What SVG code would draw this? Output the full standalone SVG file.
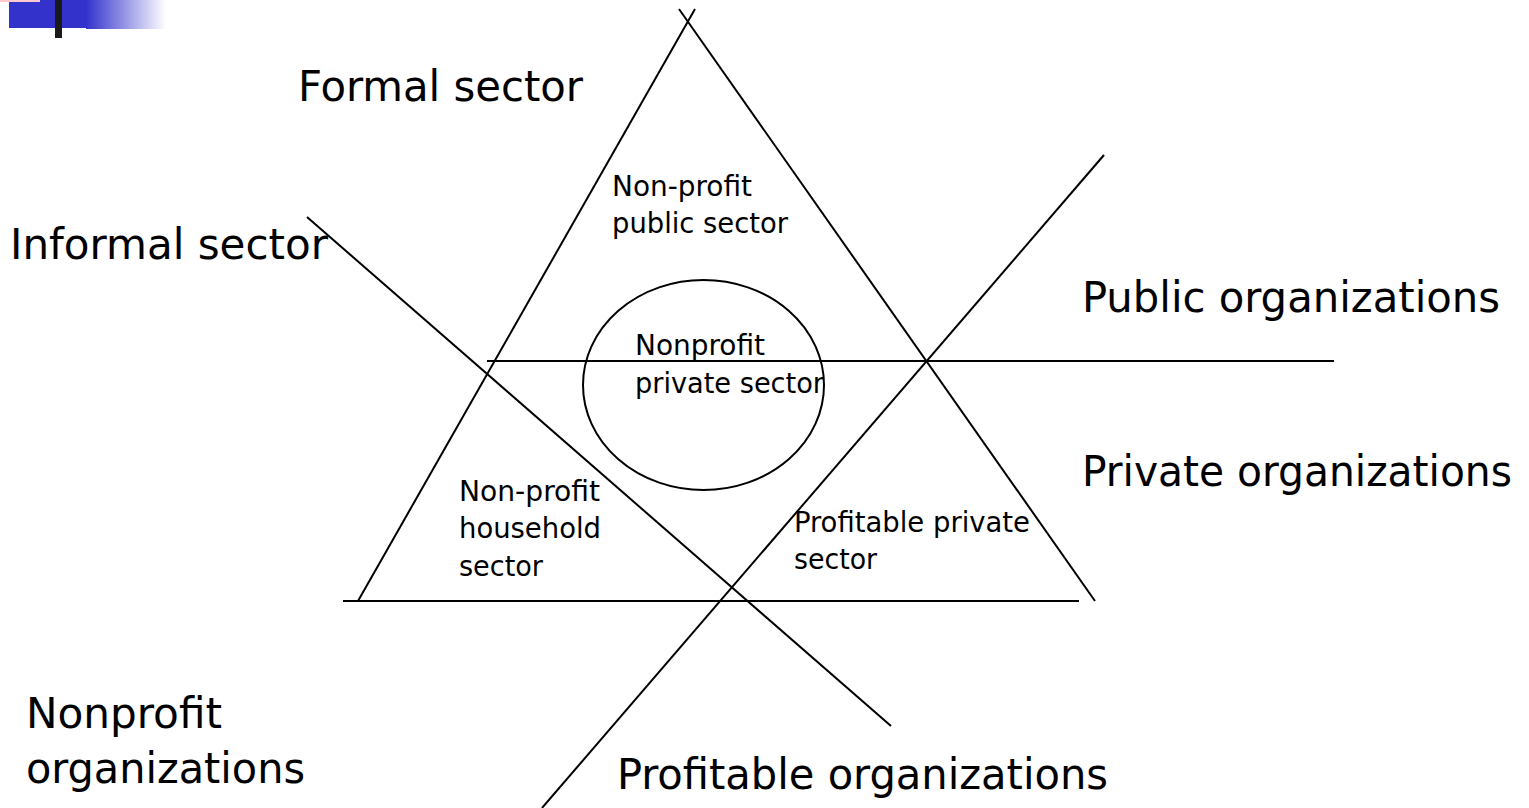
<svg xmlns="http://www.w3.org/2000/svg" width="1529" height="808" viewBox="0 0 1529 808">
<style>
.ln{stroke:#000;stroke-width:2;fill:none}
.big{font-family:"DejaVu Sans Condensed","DejaVu Sans",sans-serif;font-size:43px;fill:#000}
.sm{font-family:"DejaVu Sans Condensed","DejaVu Sans",sans-serif;font-size:28px;fill:#000}
</style>
<defs>
<linearGradient id="fade" x1="0" y1="0" x2="1" y2="0">
<stop offset="0" stop-color="#3333cc"/>
<stop offset="1" stop-color="#ffffff"/>
</linearGradient>
</defs>
<rect width="1529" height="808" fill="#fff"/>
<g id="logo">
<rect x="86" y="0" width="80" height="29" fill="url(#fade)"/>
<rect x="9" y="0" width="77" height="28" fill="#3333cc"/>
<rect x="0" y="0" width="40" height="2" fill="#ffc8d0"/>
<rect x="55" y="0" width="7" height="38" fill="#1a1a1a"/>
</g>
<g id="connectors">
<line class="ln" x1="695" y1="9" x2="358" y2="601"/>
<line class="ln" x1="679" y1="9" x2="1095" y2="601"/>
<line class="ln" x1="343" y1="601" x2="1079" y2="601"/>
<line class="ln" x1="487" y1="361" x2="1334" y2="361"/>
<line class="ln" x1="307" y1="217" x2="891" y2="726"/>
<line class="ln" x1="1104" y1="155" x2="542" y2="808"/>
</g>
<g id="circle">
<ellipse class="ln" cx="703.5" cy="385" rx="120.5" ry="105"/>
</g>
<g id="labels">
<text class="big" x="298" y="101" textLength="285" lengthAdjust="spacingAndGlyphs">Formal sector</text>
<text class="big" x="10" y="259" textLength="318" lengthAdjust="spacingAndGlyphs">Informal sector</text>
<text class="big" x="1082" y="312" textLength="418" lengthAdjust="spacingAndGlyphs">Public organizations</text>
<text class="big" x="1082" y="486" textLength="430" lengthAdjust="spacingAndGlyphs">Private organizations</text>
<text class="big" x="26" y="728" textLength="196" lengthAdjust="spacingAndGlyphs">Nonprofit</text>
<text class="big" x="26" y="783" textLength="279" lengthAdjust="spacingAndGlyphs">organizations</text>
<text class="big" x="617" y="789" textLength="491" lengthAdjust="spacingAndGlyphs">Profitable organizations</text>
</g>
<g id="n-public">
<text class="sm" x="612" y="196" textLength="140" lengthAdjust="spacingAndGlyphs">Non-profit</text>
<text class="sm" x="612" y="233" textLength="176" lengthAdjust="spacingAndGlyphs">public sector</text>
</g>
<g id="n-private">
<text class="sm" x="635" y="355" textLength="130" lengthAdjust="spacingAndGlyphs">Nonprofit</text>
<text class="sm" x="635" y="393" textLength="189" lengthAdjust="spacingAndGlyphs">private sector</text>
</g>
<g id="n-household">
<text class="sm" x="459" y="501" textLength="141" lengthAdjust="spacingAndGlyphs">Non-profit</text>
<text class="sm" x="459" y="538" textLength="142" lengthAdjust="spacingAndGlyphs">household</text>
<text class="sm" x="459" y="576" textLength="84" lengthAdjust="spacingAndGlyphs">sector</text>
</g>
<g id="n-profitable">
<text class="sm" x="794" y="532" textLength="236" lengthAdjust="spacingAndGlyphs">Profitable private</text>
<text class="sm" x="794" y="569" textLength="83" lengthAdjust="spacingAndGlyphs">sector</text>
</g>
</svg>
